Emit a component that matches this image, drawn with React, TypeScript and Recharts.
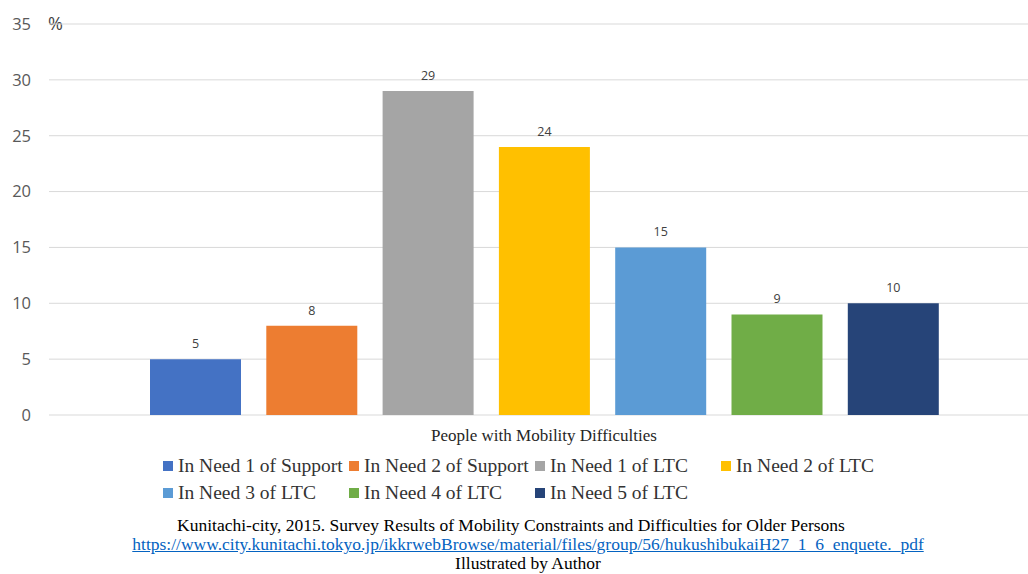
import React from "react";
import { BarChart, Bar, XAxis, YAxis, CartesianGrid, LabelList } from "recharts";

const category = "People with Mobility Difficulties";
const seriesNames = [
  "In Need 1 of Support",
  "In Need 2 of Support",
  "In Need 1 of LTC",
  "In Need 2 of LTC",
  "In Need 3 of LTC",
  "In Need 4 of LTC",
  "In Need 5 of LTC",
];
const seriesValues = [5, 8, 29, 24, 15, 9, 10];
const seriesColors = ["#4472C4", "#ED7D31", "#A5A5A5", "#FFC000", "#5B9BD5", "#70AD47", "#264478"];
const yTicks = [0, 5, 10, 15, 20, 25, 30, 35];

const sourceLine = "Kunitachi-city, 2015. Survey Results of Mobility Constraints and Difficulties for Older Persons";
const sourceUrl = "https://www.city.kunitachi.tokyo.jp/ikkrwebBrowse/material/files/group/56/hukushibukaiH27_1_6_enquete._pdf";
const creditLine = "Illustrated by Author";

const SANS = "'Open Sans', 'Noto Sans', sans-serif";
const SERIF = "'Liberation Serif', 'Times New Roman', serif";

const row: Record<string, string | number> = { name: category };
seriesValues.forEach((v, i) => {
  row[`s${i}`] = v;
});
const data = [row];

export default function App() {
  return (
    <div style={{ position: "absolute", left: 0, top: 0, width: 1028, height: 574, background: "#fff" }}>
      <span
        style={{ position: "absolute", left: 48, top: 11, fontFamily: SANS, fontSize: 18, color: "#404040" }}
      >
        %
      </span>
      <BarChart
        width={1028}
        height={452}
        data={data}
        margin={{ top: 24, right: 0, bottom: 0, left: 0 }}
        barGap={25.3}
        barSize={91}
      >
        <CartesianGrid vertical={false} stroke="#D9D9D9" />
        <YAxis
          domain={[0, 35]}
          ticks={yTicks}
          width={49}
          axisLine={false}
          tickLine={false}
          tickMargin={12}
          tick={{ fontFamily: SANS, fontSize: 16.5, fill: "#595959" }}
        />
        <XAxis
          dataKey="name"
          height={37}
          padding={{ left: 11, right: 0 }}
          axisLine={false}
          tickLine={false}
          tickMargin={8}
          tick={{ fontFamily: SERIF, fontSize: 17, fill: "#262626" }}
        />
        {seriesNames.map((name, i) => (
          <Bar key={name} dataKey={`s${i}`} name={name} fill={seriesColors[i]} isAnimationActive={false}>
            <LabelList
              dataKey={`s${i}`}
              position="top"
              offset={11}
              style={{ fontFamily: SANS, fontSize: 12.5, fill: "#404040" }}
            />
          </Bar>
        ))}
      </BarChart>

      {/* legend: two rows on a fixed column grid */}
      <div
        style={{
          position: "absolute",
          left: 163,
          top: 454,
          width: 780,
          display: "grid",
          gridTemplateColumns: "186px 186px 186px 186px",
          rowGap: 4,
          fontFamily: SERIF,
          fontSize: 19.5,
          color: "#333",
        }}
      >
        {seriesNames.map((name, i) => (
          <div key={name} style={{ display: "flex", alignItems: "center", height: 23, whiteSpace: "nowrap" }}>
            <span style={{ width: 10, height: 10, background: seriesColors[i], marginRight: 5, flexShrink: 0 }} />
            {name}
          </div>
        ))}
      </div>

      <div
        style={{
          position: "absolute",
          left: 0,
          top: 516,
          width: 1056,
          textAlign: "center",
          fontFamily: SERIF,
          fontSize: 17.5,
          lineHeight: "19px",
          color: "#000",
        }}
      >
        <div style={{ marginLeft: -34 }}>{sourceLine}</div>
        <div>
          <a href="#" style={{ color: "#0563C1", textDecoration: "underline" }}>
            {sourceUrl}
          </a>
        </div>
        <div>{creditLine}</div>
      </div>
    </div>
  );
}
